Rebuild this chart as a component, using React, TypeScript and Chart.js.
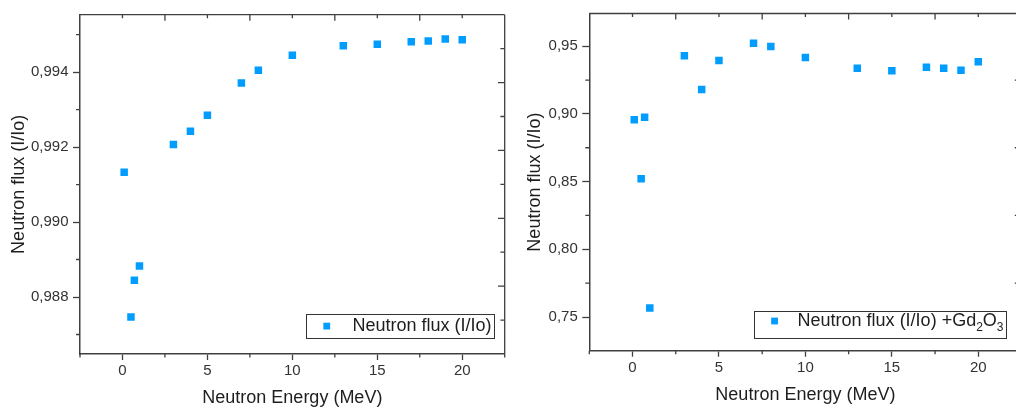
import React, { useEffect, useRef } from 'react';
import { Chart, registerables } from 'chart.js';

Chart.register(...registerables);

// ---------- data ----------
const energies = [0.1, 0.5, 0.7, 1, 3, 4, 5, 7, 8, 10, 13, 15, 17, 18, 19, 20];
const fluxPlain = [0.99133, 0.98747, 0.98845, 0.98883, 0.99207, 0.99242, 0.99285, 0.99371, 0.99405, 0.99445, 0.9947, 0.99474, 0.99481, 0.99483, 0.99488, 0.99486];
const fluxGd = [0.8957, 0.8521, 0.8976, 0.7567, 0.943, 0.918, 0.9395, 0.9522, 0.9498, 0.9416, 0.9337, 0.9319, 0.9344, 0.9337, 0.9323, 0.9385];

const xTickValues = [0, 5, 10, 15, 20];
const xMinorValues = [-2.5, 2.5, 7.5, 12.5, 17.5, 22.5];
const yTicksPlain = [0.988, 0.99, 0.992, 0.994];
const yMinorPlain = [0.987, 0.989, 0.991, 0.993, 0.995];
const yTicksGd = [0.75, 0.8, 0.85, 0.9, 0.95];
const yMinorGd = [0.775, 0.825, 0.875, 0.925];
const mirrorMajor = [1, 2, 3, 4];
const mirrorMinor = [0.5, 1.5, 2.5, 3.5, 4.5];

const xTitle = 'Neutron Energy (MeV)';
const yTitle = 'Neutron flux (I/Io)';
const legendPlain = [{ text: 'Neutron flux (I/Io)', sub: false }];
const legendGd = [
  { text: 'Neutron flux (I/Io) +Gd', sub: false },
  { text: '2', sub: true },
  { text: 'O', sub: false },
  { text: '3', sub: true },
];

// ---------- styles ----------
const FONT = '"Liberation Sans", Arial, sans-serif';
const AXIS = '#404040';
const TICK_TEXT = '#333333';
const TITLE_TEXT = '#1e1e1e';
const BLUE = '#009dff';

Chart.defaults.font.family = FONT;

const framePlugin = {
  id: 'frame',
  afterDraw(chart: any, _args: any, opts: any) {
    const { ctx, chartArea } = chart;
    const { left, right, top, bottom } = chartArea;
    const x = chart.scales.x;
    const y = chart.scales.y;
    const rs = chart.scales[opts.rightScale || 'y'];
    ctx.save();
    ctx.strokeStyle = AXIS;
    ctx.lineWidth = 1.3;
    ctx.beginPath();
    // top and right border
    ctx.moveTo(left, top);
    ctx.lineTo(right, top);
    ctx.moveTo(right, top);
    ctx.lineTo(right, bottom);
    // minor outward ticks, left
    (opts.leftMinor || []).forEach((v: number) => {
      const p = y.getPixelForValue(v);
      if (p < top - 0.5 || p > bottom + 0.5) return;
      ctx.moveTo(left, p);
      ctx.lineTo(left - 4, p);
    });
    // minor outward ticks, bottom
    (opts.bottomMinor || []).forEach((v: number) => {
      const p = x.getPixelForValue(v);
      ctx.moveTo(p, bottom);
      ctx.lineTo(p, bottom + 3.5);
    });
    // top inward ticks
    (opts.topLong || []).forEach((v: number) => {
      const p = x.getPixelForValue(v);
      if (p <= left + 1 || p >= right - 1) return;
      ctx.moveTo(p, top);
      ctx.lineTo(p, top + 6);
    });
    (opts.topShort || []).forEach((v: number) => {
      const p = x.getPixelForValue(v);
      ctx.moveTo(p, top);
      ctx.lineTo(p, top + 3.5);
    });
    // right inward ticks
    (opts.rightLong || []).forEach((v: number) => {
      const p = rs.getPixelForValue(v);
      if (p < top || p > bottom) return;
      ctx.moveTo(right, p);
      ctx.lineTo(right - 6.7, p);
    });
    (opts.rightShort || []).forEach((v: number) => {
      const p = rs.getPixelForValue(v);
      if (p < top || p > bottom) return;
      ctx.moveTo(right, p);
      ctx.lineTo(right - 4.3, p);
    });
    ctx.stroke();

    // legend
    const lg = opts.legend;
    if (lg) {
      const mainFont = `18px ${FONT}`;
      const subFont = `12px ${FONT}`;
      let textW = 0;
      lg.parts.forEach((part: any) => {
        ctx.font = part.sub ? subFont : mainFont;
        textW += ctx.measureText(part.text).width;
      });
      const w = lg.textDx + textW + 2.5;
      const h = lg.height;
      const bx = right - lg.rightInset - w;
      const by = bottom - lg.bottomInset - h;
      ctx.lineWidth = 1;
      ctx.strokeStyle = '#333333';
      ctx.strokeRect(Math.round(bx) + 0.5, Math.round(by) + 0.5, Math.round(w), Math.round(h));
      const ty = by + lg.textDy;
      ctx.fillStyle = BLUE;
      ctx.fillRect(bx + lg.markerDx - 3.4, ty - 3.6, 6.8, 6.8);
      ctx.fillStyle = TITLE_TEXT;
      ctx.textBaseline = 'middle';
      ctx.textAlign = 'left';
      let tx = bx + lg.textDx;
      lg.parts.forEach((part: any) => {
        ctx.font = part.sub ? subFont : mainFont;
        ctx.fillText(part.text, tx, part.sub ? ty + 6 : ty);
        tx += ctx.measureText(part.text).width;
      });
    }
    ctx.restore();
  },
};

function buildConfig(p: any) {
  const scales: any = {
    x: {
      type: 'linear',
      min: -2.5,
      max: 22.5,
      afterBuildTicks: (s: any) => {
        s.ticks = xTickValues.map((value) => ({ value }));
      },
      afterFit: (s: any) => {
        s.height = p.xAxisHeight;
      },
      ticks: {
        color: TICK_TEXT,
        font: { size: 15 },
        padding: 2.3,
        autoSkip: false,
        maxRotation: 0,
        callback: (v: any) => String(v),
      },
      grid: { drawOnChartArea: false, drawTicks: true, tickLength: 6, tickColor: AXIS, tickWidth: 1.3 },
      border: { display: true, color: AXIS, width: 1.5 },
      title: {
        display: true,
        text: xTitle,
        color: TITLE_TEXT,
        font: { size: 18 },
        padding: { top: 0, bottom: p.xTitlePad },
      },
    },
    y: {
      type: 'linear',
      min: p.yMin,
      max: p.yMax,
      afterBuildTicks: (s: any) => {
        s.ticks = p.yTicks.map((value: number) => ({ value }));
      },
      afterFit: (s: any) => {
        s.width = p.yAxisWidth;
      },
      ticks: {
        color: TICK_TEXT,
        font: { size: 15 },
        padding: 4.5,
        autoSkip: false,
        callback: (v: any) => Number(v).toFixed(p.decimals).replace('.', ','),
      },
      grid: { drawOnChartArea: false, drawTicks: true, tickLength: 7, tickColor: AXIS, tickWidth: 1.3 },
      border: { display: true, color: AXIS, width: 1.5 },
      title: {
        display: true,
        text: yTitle,
        color: TITLE_TEXT,
        font: { size: 18 },
        padding: { top: p.yTitlePad, bottom: 0 },
      },
    },
  };
  if (p.mirror) {
    scales.y2 = { type: 'linear', display: false, min: 0, max: 5, position: 'right' };
  }
  return {
    type: 'scatter',
    data: {
      datasets: [
        {
          data: energies.map((e, i) => ({ x: e, y: p.values[i] })),
          pointStyle: 'rect',
          pointRadius: 5.3,
          pointHoverRadius: 5.3,
          backgroundColor: BLUE,
          borderColor: BLUE,
          borderWidth: 0,
          showLine: false,
        },
      ],
    },
    options: {
      responsive: false,
      animation: false,
      layout: { padding: p.padding },
      scales,
      plugins: {
        legend: { display: false },
        tooltip: { enabled: false },
        frame: {
          rightScale: p.mirror ? 'y2' : 'y',
          leftMinor: p.yMinor,
          bottomMinor: xMinorValues,
          topLong: xMinorValues,
          topShort: xTickValues,
          rightLong: p.mirror ? mirrorMajor : p.yMinor,
          rightShort: p.mirror ? mirrorMinor : p.yTicks,
          legend: p.legend,
        },
      },
    },
    plugins: [framePlugin],
  };
}

const plainConfig = {
  values: fluxPlain,
  yMin: 0.98648,
  yMax: 0.99553,
  yTicks: yTicksPlain,
  yMinor: yMinorPlain,
  decimals: 3,
  yAxisWidth: 80,
  xAxisHeight: 57,
  padding: { left: 0, top: 14.7, right: 4, bottom: 0 },
  yTitlePad: 8.4,
  xTitlePad: 1.9,
  mirror: true,
  legend: { parts: legendPlain, rightInset: 10.7, bottomInset: 15.3, height: 24.4, markerDx: 21, textDx: 46.7, textDy: 12 },
};

const gdConfig = {
  values: fluxGd,
  yMin: 0.72513,
  yMax: 0.97416,
  yTicks: yTicksGd,
  yMinor: yMinorGd,
  decimals: 2,
  yAxisWidth: 79.3,
  xAxisHeight: 60.3,
  padding: { left: 0, top: 3.3, right: 8.5, bottom: 0 },
  yTitlePad: 14.2,
  xTitlePad: 5.2,
  mirror: false,
  legend: { parts: legendGd, rightInset: 15.5, bottomInset: 13.4, height: 26.6, markerDx: 20.4, textDx: 43.4, textDy: 10.5 },
};

export default function App() {
  const leftRef = useRef<HTMLCanvasElement | null>(null);
  const rightRef = useRef<HTMLCanvasElement | null>(null);

  useEffect(() => {
    const charts: Chart[] = [];
    if (leftRef.current) charts.push(new Chart(leftRef.current, buildConfig(plainConfig) as any));
    if (rightRef.current) charts.push(new Chart(rightRef.current, buildConfig(gdConfig) as any));
    return () => charts.forEach((c) => c.destroy());
  }, []);

  return (
    <div
      style={{
        position: 'absolute',
        left: 0,
        top: 0,
        width: 1016,
        height: 411,
        overflow: 'hidden',
        background: '#ffffff',
      }}
    >
      <canvas ref={leftRef} width={510} height={411} style={{ position: 'absolute', left: 0, top: 0 }} />
      <canvas ref={rightRef} width={520} height={411} style={{ position: 'absolute', left: 510, top: 0 }} />
    </div>
  );
}
